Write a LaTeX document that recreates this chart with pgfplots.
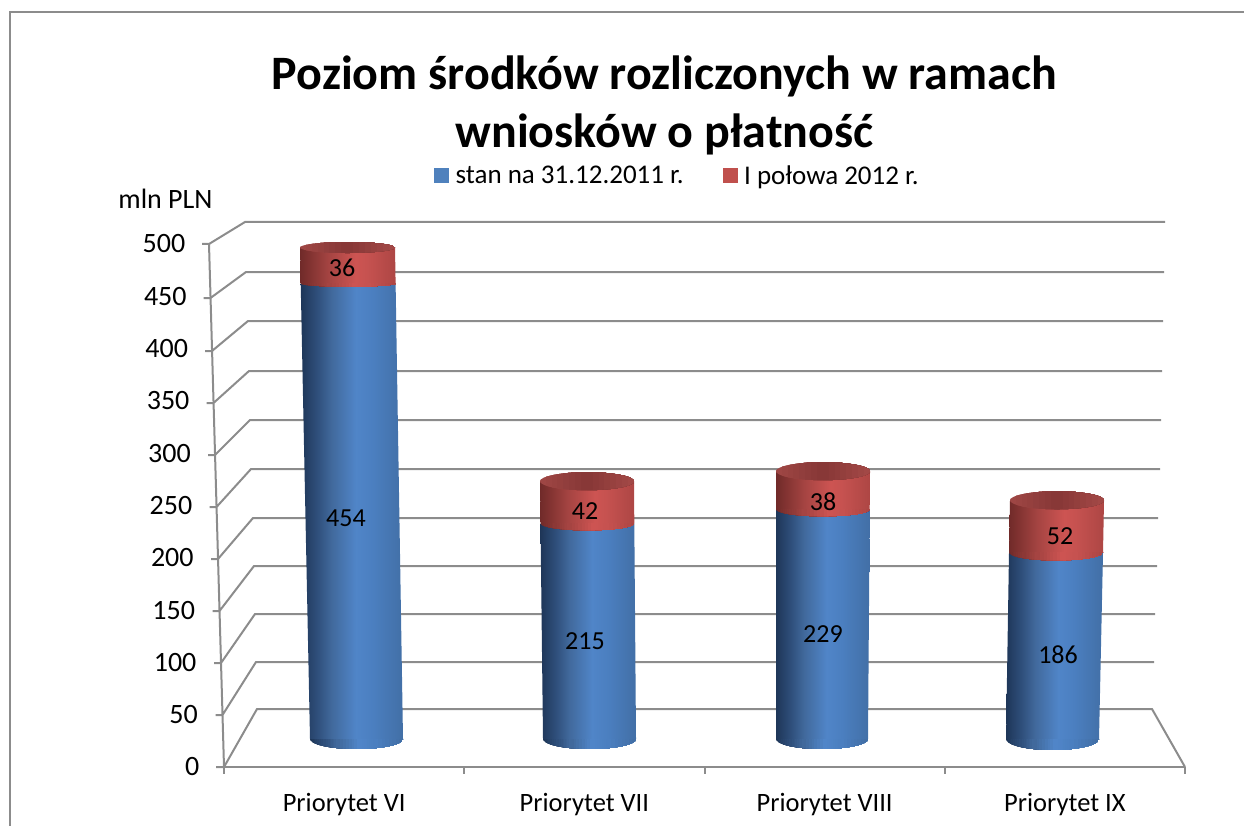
\documentclass[border=0pt]{standalone}
\usepackage{fontspec}
\setmainfont{Carlito}
\usepackage{pgfplots}
\pgfplotsset{compat=1.18}

% everything is laid out 1pt = 1px of the reference
\newcommand\lbl{\fontsize{26}{30}\selectfont}

\definecolor{gridc}{RGB}{140,140,140}
\definecolor{legb}{RGB}{79,129,189}
\definecolor{legr}{RGB}{192,80,77}
\definecolor{b0}{RGB}{30,54,88}
\definecolor{b1}{RGB}{47,79,123}
\definecolor{b2}{RGB}{65,105,156}
\definecolor{b3}{RGB}{80,133,200}
\definecolor{b4}{RGB}{75,127,192}
\definecolor{b5}{RGB}{66,111,166}
\definecolor{r0}{RGB}{112,42,41}
\definecolor{r1}{RGB}{140,56,54}
\definecolor{r2}{RGB}{165,68,66}
\definecolor{r3}{RGB}{205,84,82}
\definecolor{r4}{RGB}{198,82,80}
\definecolor{r5}{RGB}{173,70,68}
\definecolor{t0}{RGB}{158,70,68}
\definecolor{t1}{RGB}{136,56,55}
\definecolor{t2}{RGB}{162,72,70}

\pgfdeclarehorizontalshading{cylb}{100bp}{color(0bp)=(b0); color(25bp)=(b0); color(33bp)=(b1); color(40bp)=(b2); color(52bp)=(b3); color(60bp)=(b4); color(75bp)=(b5); color(100bp)=(b5)}
\pgfdeclarehorizontalshading{cylr}{100bp}{color(0bp)=(r0); color(25bp)=(r0); color(33bp)=(r1); color(40bp)=(r2); color(54bp)=(r3); color(60bp)=(r4); color(75bp)=(r5); color(100bp)=(r5)}

% strips from colour #1 to #2 over x = #3 .. #4 of the unit disc, y from \stripy up to 0 or 1
\newcommand\strips[4]{%
  \foreach \s in {0,...,7}{%
    \pgfmathsetmacro\xa{#3+(#4-#3)*\s/8}%
    \pgfmathtruncatemacro\pc{100*\s/7}%
    \fill[#2!\pc!#1] (\xa pt,-1pt) rectangle (1pt,\stripy pt);%
  }}
% bottom rims: only the lower half of the disc
\pgfdeclareplotmark{discb}{\def\stripy{0}\pgfscope\pgfpathcircle{\pgfpointorigin}{1pt}\pgfusepath{clip}%
  \strips{b0}{b1}{-1}{-0.68}\strips{b1}{b2}{-0.68}{-0.4}\strips{b2}{b3}{-0.4}{0.08}\strips{b3}{b4}{0.08}{0.4}\strips{b4}{b5}{0.4}{1}\endpgfscope}
\pgfdeclareplotmark{discr}{\def\stripy{0}\pgfscope\pgfpathcircle{\pgfpointorigin}{1pt}\pgfusepath{clip}%
  \strips{r0}{r1}{-1}{-0.68}\strips{r1}{r2}{-0.68}{-0.4}\strips{r2}{r3}{-0.4}{0.16}\strips{r3}{r4}{0.16}{0.4}\strips{r4}{r5}{0.4}{1}\endpgfscope}
% top face: the whole disc
\pgfdeclareplotmark{disct}{\def\stripy{1}\pgfscope\pgfpathcircle{\pgfpointorigin}{1pt}\pgfusepath{clip}%
  \strips{t0}{t1}{-1}{0}\strips{t1}{t2}{0}{1}\endpgfscope}

% mark, x px, value, half width, half height
\newcommand\disc[5]{\addplot[forget plot, only marks, mark=#1, mark options={xscale=#4, yscale=#5}] coordinates {(#2,#3)};}

\begin{document}
\begin{tikzpicture}
\useasboundingbox (0,0) rectangle (1244pt,826pt);

% frame, walls and gridlines, in reference pixels
\begin{axis}[
    at={(0pt,0pt)}, anchor=south west,
    scale only axis, width=1244pt, height=826pt,
    xmin=0, xmax=1244, ymin=0, ymax=826, y dir=reverse,
    hide axis, unbounded coords=jump,
]
\addplot[gridc, line width=2pt] coordinates {(10,826) (10,12) (1244,12)};
\addplot[gridc, line width=2pt] coordinates {
    (224,767) (209,244)
    (nan,nan)
    (216,767) (224,767) (257,709) (1152,709) (1185,767)
    (nan,nan)
    (215.5,715) (222.5,715) (256,662) (1154,662)
    (nan,nan)
    (214,663) (221,663) (255,614) (1155,614)
    (nan,nan)
    (212.5,611) (219.5,611) (254,566) (1157,566)
    (nan,nan)
    (211,559) (218,559) (253,518) (1158,518)
    (nan,nan)
    (209.5,507) (216.5,507) (251,469) (1160,469)
    (nan,nan)
    (208,455) (215,455) (250,420) (1161,420)
    (nan,nan)
    (206.5,403) (213.5,403) (249,371) (1162,371)
    (nan,nan)
    (205,351) (212,351) (248,321) (1163,321)
    (nan,nan)
    (203.5,298) (210.5,298) (246,272) (1164,272)
    (nan,nan)
    (202,244) (209,244) (245,222) (1165,222)
};
\node[font=\fontsize{28}{32}\selectfont] at (axis cs:165.5,199) {mln PLN};
\end{axis}

% front edge of the chart: value and category ticks
\begin{axis}[
    at={(224pt,59pt)}, anchor=south west,
    scale only axis, width=961pt, height=523pt,
    xmin=0, xmax=4, ymin=0, ymax=500,
    axis x line*=bottom, axis y line*=left,
    y axis line style={draw=none},
    x axis line style={gridc, line width=2pt},
    xtick={0.5,1.5,2.5,3.5},
    xticklabels={Priorytet VI,Priorytet VII,Priorytet VIII,Priorytet IX},
    minor xtick={0,1,2,3,4},
    major x tick style={draw=none},
    minor x tick style={gridc, line width=2pt},
    minor tick length=7pt, tick align=outside,
    ytick={0,50,...,500},
    yticklabels={0,50\kern1.4pt,100\kern2.8pt,150\kern4.2pt,200\kern5.6pt,250\kern7pt,300\kern8.4pt,350\kern9.8pt,400\kern11.2pt,450\kern12.6pt,500\kern14pt},
    major y tick style={draw=none},
    xticklabel style={yshift=-18pt, font=\fontsize{26.5}{30}\selectfont},
    yticklabel style={anchor=east, xshift=-17pt, font=\fontsize{28}{32}\selectfont},
]
\addplot[draw=none] coordinates {(0,0) (4,500)};
\end{axis}

% cylinders, x in reference pixels, y in mln PLN
\begin{axis}[
    at={(0pt,0pt)}, anchor=south west,
    scale only axis, width=1244pt, height=826pt,
    xmin=0, xmax=1244, ymin=-86.74, ymax=736.79,
    hide axis, clip=false,
    title={Poziom środków rozliczonych w ramach\\wniosków o płatność},
    title style={at={(664.5/1244,1-111/826)}, anchor=center, align=center,
        font=\fontsize{48}{58}\bfseries\selectfont},
    legend style={at={(434/1244,1-175.5/826)}, anchor=west, draw=none, fill=none,
        inner sep=0pt, font=\fontsize{27}{30}\selectfont, legend columns=2,
        /tikz/every odd column/.style={column sep=5pt},
        /tikz/every even column/.style={column sep=37pt}},
]
\addlegendimage{legend image code/.code={\fill[legb] (0pt,-7pt) rectangle (14pt,7pt);}}
\addlegendentry{stan na 31.12.2011 r.}
\addlegendimage{legend image code/.code={\fill[legr] (0pt,-7pt) rectangle (14pt,7pt);}}
\addlegendentry{I połowa 2012 r.}

% Priorytet VI
\disc{discb}{356.5}{0}{46.5}{10}
\addplot[forget plot, draw=none, shading=cylb] coordinates {(310,0) (403,0) (395.6,454) (300.7,454)} --cycle;
\disc{discr}{348.15}{454}{47.5}{3}
\addplot[forget plot, draw=none, shading=cylr] coordinates {(300.7,454) (395.6,454) (395,490) (300,490)} --cycle;
\disc{disct}{347.5}{490}{47.5}{5.5}

% Priorytet VII
\disc{discb}{589.5}{0}{46.5}{10}
\addplot[forget plot, draw=none, shading=cylb] coordinates {(543,0) (636,0) (634.3,215) (540.5,215)} --cycle;
\disc{discr}{587.4}{215}{46.9}{7}
\addplot[forget plot, draw=none, shading=cylr] coordinates {(540.5,215) (634.3,215) (634,257) (540,257)} --cycle;
\disc{disct}{587}{257}{47}{9}

% Priorytet VIII
\disc{discb}{822}{0}{46}{10}
\addplot[forget plot, draw=none, shading=cylb] coordinates {(776,0) (868,0) (869.7,229) (776,229)} --cycle;
\disc{discr}{822.85}{229}{46.85}{7}
\addplot[forget plot, draw=none, shading=cylr] coordinates {(776,229) (869.7,229) (870,267) (776,267)} --cycle;
\disc{disct}{823}{267}{47}{9}

% Priorytet IX
\disc{discb}{1052.5}{0}{46.5}{11}
\addplot[forget plot, draw=none, shading=cylb] coordinates {(1006,0) (1099,0) (1103,186) (1009,186)} --cycle;
\disc{discr}{1056}{186}{47}{8}
\addplot[forget plot, draw=none, shading=cylr] coordinates {(1009,186) (1103,186) (1104,238) (1010,238)} --cycle;
\disc{disct}{1057}{238}{47}{9}

% value labels, placed as in the reference
\addplot[forget plot, draw=none, point meta=explicit symbolic, nodes near coords,
    every node near coord/.append style={anchor=center, font=\lbl}] coordinates {
    (346,220) [454]
    (342,470) [36]
    (585,98) [215]
    (585,227) [42]
    (823,105) [229]
    (823,237) [38]
    (1058,84) [186]
    (1060,202) [52]
};
\end{axis}
\end{tikzpicture}
\end{document}
